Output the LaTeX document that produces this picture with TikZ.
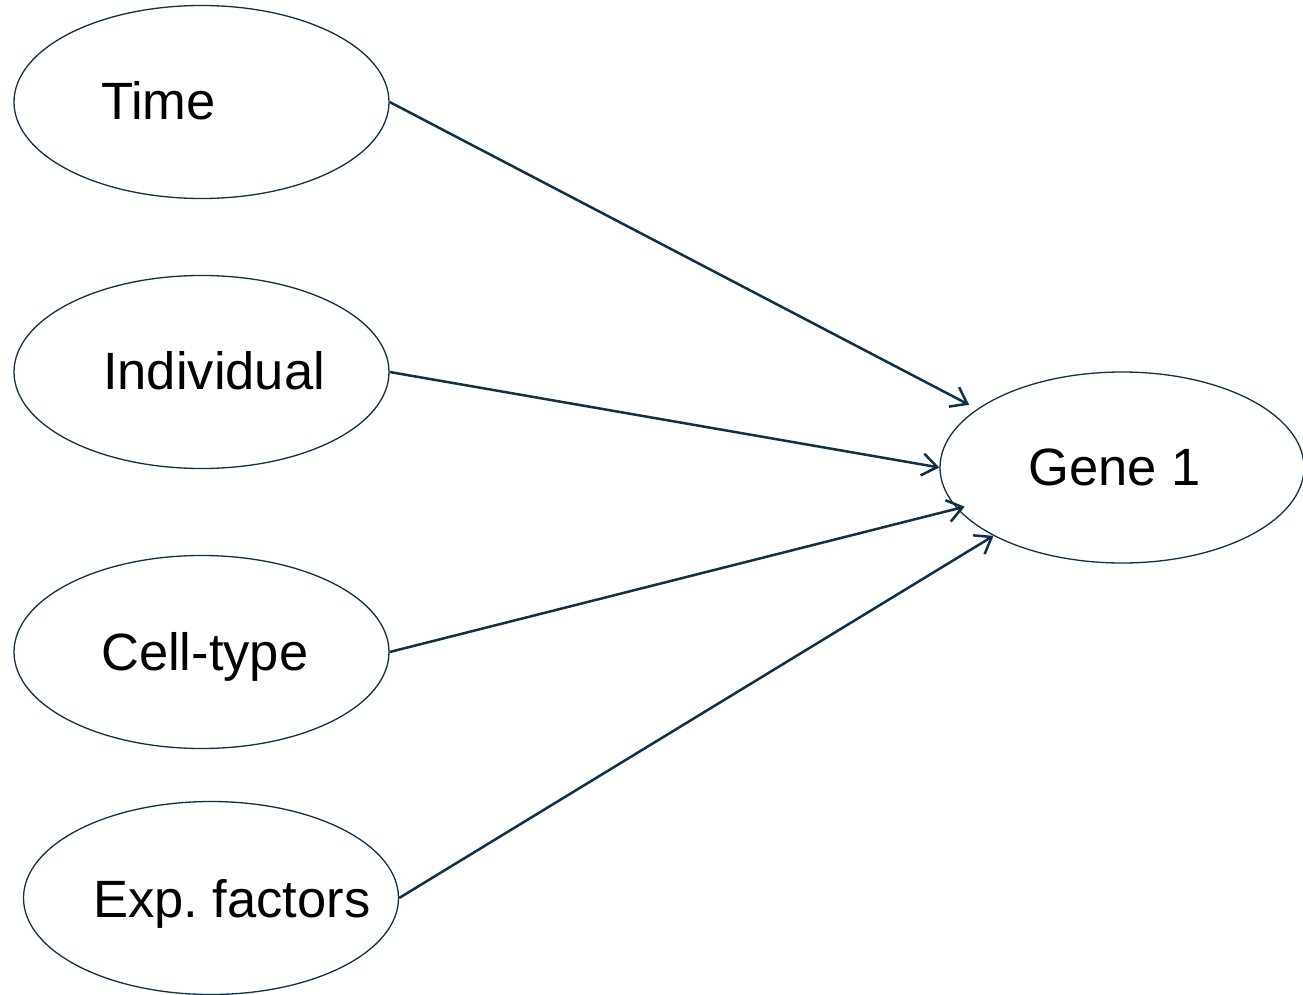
\documentclass[tikz,border=0pt]{standalone}
\usepackage{fontspec}
\setmainfont{Liberation Sans}
\usetikzlibrary{shapes.geometric,arrows.meta}
\definecolor{edge}{HTML}{0E3048}
\frenchspacing
\begin{document}
\begin{tikzpicture}[x=1pt,y=-1pt,
  oval/.style={draw=edge,line width=1.3pt,ellipse,inner sep=0pt,minimum width=375pt,minimum height=193pt},
  lbl/.style={anchor=base west,inner sep=0pt,font=\fontsize{52.5}{60}\selectfont},
  conn/.style={draw=edge,line width=2.5pt,-{Straight Barb[length=15pt,width=22pt,line width=2.5pt]}}]
\useasboundingbox (0,0) rectangle (1303,995);
\node[oval] (t) at (201.5,102) {};
\node[oval] (i) at (201.5,372) {};
\node[oval] (c) at (201.5,652) {};
\node[oval] (e) at (211,898) {};
\node[oval,minimum width=364pt,minimum height=191pt] (g) at (1122,467.5) {};
\node[lbl] (tl) at (101,120) {Time};
\node[lbl] (il) at (103,389) {Individual};
\node[lbl] (cl) at (101,670) {Cell-type};
\node[lbl] (el) at (93,917) {Exp. factors};
\node[lbl] (gl) at (1028,485) {Gene 1};
\draw[conn,shorten >=9pt] (t.east) -- (g.158.6);
\draw[conn] (i.east) -- (g.180);
\draw[conn,shorten >=-8pt] (c.east) -- (g.194.4);
\draw[conn] (e.east) -- (g.208.3);
\end{tikzpicture}
\end{document}
